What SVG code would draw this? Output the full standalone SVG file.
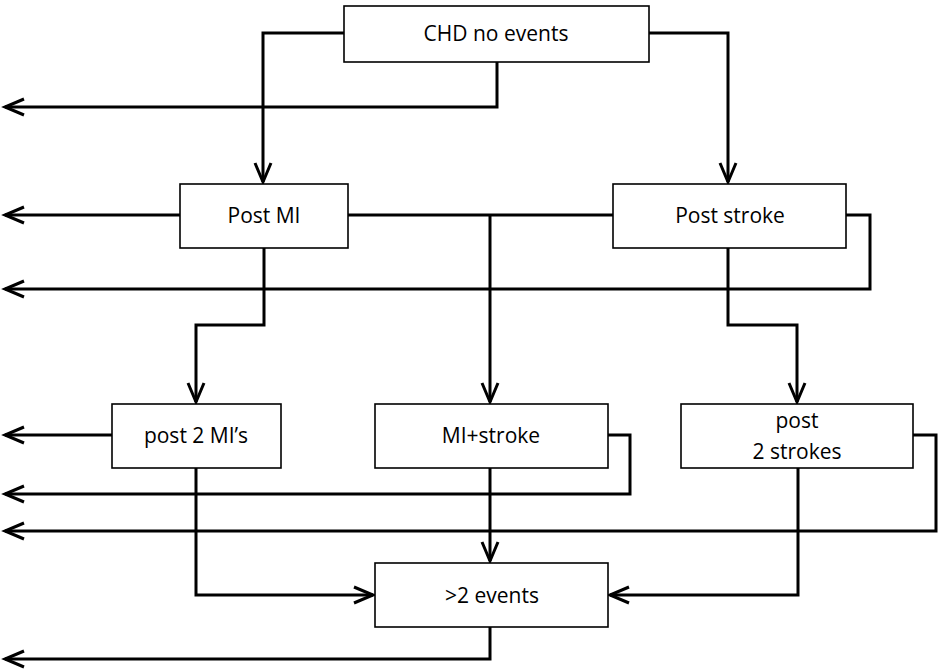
<svg xmlns="http://www.w3.org/2000/svg" width="938" height="671" viewBox="0 0 938 671">
<style>
.box{fill:#fff;stroke:#000;stroke-width:1.6}
.lbl{font-family:"Open Sans","Liberation Sans",sans-serif;font-size:21px;fill:#000;text-anchor:middle;dominant-baseline:central}
.c{fill:none;stroke:#000;stroke-width:3;stroke-linejoin:miter}
</style>
<defs>
<marker id="arr" markerUnits="userSpaceOnUse" viewBox="0 0 24 20" refX="22" refY="10" markerWidth="24" markerHeight="20" orient="auto" overflow="visible">
<path d="M3,2 L22,10 L3,18" fill="none" stroke="#000" stroke-width="3"/>
</marker>
</defs>
<rect width="938" height="671" fill="#fff"/>
<g id="connectors">
<path class="c" d="M344,33 H263 V182" marker-end="url(#arr)"/>
<path class="c" d="M649,33 H728 V182" marker-end="url(#arr)"/>
<path class="c" d="M497,62 V107 H5" marker-end="url(#arr)"/>
<path class="c" d="M180,215 H5" marker-end="url(#arr)"/>
<path class="c" d="M348,215 H613"/>
<path class="c" d="M490,215 V402" marker-end="url(#arr)"/>
<path class="c" d="M264,248 V325 H196 V402" marker-end="url(#arr)"/>
<path class="c" d="M728,248 V325 H797 V402" marker-end="url(#arr)"/>
<path class="c" d="M846,215 H870 V289 H5" marker-end="url(#arr)"/>
<path class="c" d="M112,435 H5" marker-end="url(#arr)"/>
<path class="c" d="M608,435 H630 V494 H5" marker-end="url(#arr)"/>
<path class="c" d="M913,435 H936 V531 H5" marker-end="url(#arr)"/>
<path class="c" d="M196,468 V595 H373" marker-end="url(#arr)"/>
<path class="c" d="M490,468 V561" marker-end="url(#arr)"/>
<path class="c" d="M798,468 V595 H610" marker-end="url(#arr)"/>
<path class="c" d="M490,627 V659 H5" marker-end="url(#arr)"/>
</g>
<g id="chd"><rect class="box" x="344" y="6" width="305" height="56"/><text class="lbl" x="496" y="33">CHD no events</text></g>
<g id="postmi"><rect class="box" x="180" y="184" width="168" height="64"/><text class="lbl" x="264" y="215">Post MI</text></g>
<g id="poststroke"><rect class="box" x="613" y="184" width="233" height="64"/><text class="lbl" x="730" y="215">Post stroke</text></g>
<g id="post2mi"><rect class="box" x="112" y="404" width="169" height="64"/><text class="lbl" x="196" y="435">post 2 MI’s</text></g>
<g id="mistroke"><rect class="box" x="375" y="404" width="233" height="64"/><text class="lbl" x="491" y="435">MI+stroke</text></g>
<g id="post2strokes"><rect class="box" x="681" y="404" width="232" height="64"/><text class="lbl" x="797" y="420">post</text><text class="lbl" x="797" y="451">2 strokes</text></g>
<g id="gt2events"><rect class="box" x="375" y="563" width="233" height="64"/><text class="lbl" x="492" y="595">&gt;2 events</text></g>
</svg>
